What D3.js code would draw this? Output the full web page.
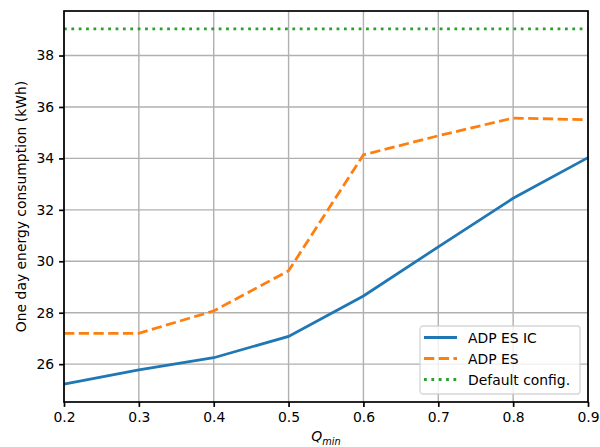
<!DOCTYPE html>
<html>
<head>
<meta charset="utf-8">
<script src="https://cdn.jsdelivr.net/npm/d3@7/dist/d3.min.js"></script>
<style>
  body { margin: 0; background: #fff; }
  svg { display: block; font-family: "DejaVu Sans", sans-serif; }
</style>
</head>
<body>
<div id="chart"></div>
<script>
// Values
const qMin = [0.2, 0.3, 0.4, 0.5, 0.6, 0.7, 0.8, 0.9];
const adpEsIc = [25.22, 25.78, 26.25, 27.08, 28.65, 30.56, 32.45, 34.03];
const adpEs = [27.2, 27.2, 28.07, 29.63, 34.14, 34.88, 35.57, 35.5];
const defaultConfig = 39.04;
const xTicks = [0.2, 0.3, 0.4, 0.5, 0.6, 0.7, 0.8, 0.9];
const yTicks = [26, 28, 30, 32, 34, 36, 38];

const width = 600, height = 447;
const margin = { top: 11, right: 12, bottom: 45, left: 64 };
const fontSize = 13.9;
const lw = 2.78;
const dashed = `${3.7 * lw},${1.6 * lw}`;
const dotted = `${1 * lw},${1.65 * lw}`;
const spineW = 1.7, gridW = 1.4;

const svg = d3.select('#chart').append('svg')
  .attr('width', width).attr('height', height);

// matplotlib-ish 5% padding on y
const allVals = adpEsIc.concat(adpEs, [defaultConfig]);
const lo = d3.min(allVals), hi = d3.max(allVals);
const pad = (hi - lo) * 0.05;

const x = d3.scaleLinear().domain([0.2, 0.9]).range([margin.left, width - margin.right]);
const y = d3.scaleLinear().domain([lo - pad, hi + pad]).range([height - margin.bottom, margin.top]);

// Grid
const grid = svg.append('g');
grid.selectAll('.gx').data(xTicks).enter().append('line')
  .attr('x1', d => x(d)).attr('x2', d => x(d))
  .attr('y1', margin.top).attr('y2', height - margin.bottom)
  .attr('stroke', '#b0b0b0').attr('stroke-width', gridW);
grid.selectAll('.gy').data(yTicks).enter().append('line')
  .attr('x1', margin.left).attr('x2', width - margin.right)
  .attr('y1', d => y(d)).attr('y2', d => y(d))
  .attr('stroke', '#b0b0b0').attr('stroke-width', gridW);

// Lines
const line = d3.line().x((d, i) => x(qMin[i])).y(d => y(d));

svg.append('path').datum(adpEsIc)
  .attr('d', line).attr('fill', 'none')
  .attr('stroke', '#1f77b4').attr('stroke-width', lw);

svg.append('path').datum(adpEs)
  .attr('d', line).attr('fill', 'none')
  .attr('stroke', '#ff7f0e').attr('stroke-width', lw)
  .attr('stroke-dasharray', dashed);

svg.append('line')
  .attr('x1', x(0.2)).attr('x2', x(0.9))
  .attr('y1', y(defaultConfig)).attr('y2', y(defaultConfig))
  .attr('stroke', '#2ca02c').attr('stroke-width', lw)
  .attr('stroke-dasharray', dotted);

// Axes
const xAxis = d3.axisBottom(x).tickValues(xTicks).tickFormat(d3.format('.1f'))
  .tickSize(4.9).tickPadding(4.9);
const yAxis = d3.axisLeft(y).tickValues(yTicks).tickFormat(d3.format('d'))
  .tickSize(4.9).tickPadding(4.9);

const gx = svg.append('g')
  .attr('transform', `translate(0,${height - margin.bottom})`).call(xAxis);
const gy = svg.append('g')
  .attr('transform', `translate(${margin.left},0)`).call(yAxis);

[gx, gy].forEach(g => {
  g.select('.domain').remove();
  g.selectAll('.tick line').attr('stroke', '#000').attr('stroke-width', spineW);
  g.selectAll('.tick text').attr('fill', '#000')
    .attr('font-size', fontSize).attr('font-family', 'DejaVu Sans, sans-serif');
});

// Spines
svg.append('rect')
  .attr('x', margin.left).attr('y', margin.top)
  .attr('width', width - margin.left - margin.right)
  .attr('height', height - margin.top - margin.bottom)
  .attr('fill', 'none').attr('stroke', '#000').attr('stroke-width', spineW);

// Axis labels
svg.append('text')
  .attr('transform', `translate(26,${(margin.top + height - margin.bottom) / 2}) rotate(-90)`)
  .attr('text-anchor', 'middle')
  .attr('font-size', fontSize)
  .text('One day energy consumption (kWh)');

const xl = svg.append('text')
  .attr('x', (margin.left + width - margin.right) / 2)
  .attr('y', 441)
  .attr('text-anchor', 'middle')
  .attr('font-size', fontSize)
  .attr('font-style', 'italic');
xl.append('tspan').text('Q');
xl.append('tspan').attr('dy', 3.5).attr('font-size', fontSize * 0.7).text('min');

// Legend
const legendItems = [
  { label: 'ADP ES IC', color: '#1f77b4', dash: null },
  { label: 'ADP ES', color: '#ff7f0e', dash: dashed },
  { label: 'Default config.', color: '#2ca02c', dash: dotted }
];

const lg = svg.append('g').attr('transform', 'translate(420,326)');
lg.append('rect')
  .attr('width', 160).attr('height', 68)
  .attr('rx', 3).attr('ry', 3)
  .attr('fill', 'rgba(255,255,255,0.8)')
  .attr('stroke', 'rgba(204,204,204,0.8)').attr('stroke-width', 1.3);

legendItems.forEach((l, i) => {
  const row = lg.append('g').attr('transform', `translate(0,${11.5 + i * 21})`);
  row.append('line')
    .attr('x1', 4).attr('x2', 37)
    .attr('stroke', l.color).attr('stroke-width', lw)
    .attr('stroke-dasharray', l.dash);
  row.append('text')
    .attr('x', 48).attr('y', 5)
    .attr('font-size', fontSize)
    .text(l.label);
});
</script>
</body>
</html>
